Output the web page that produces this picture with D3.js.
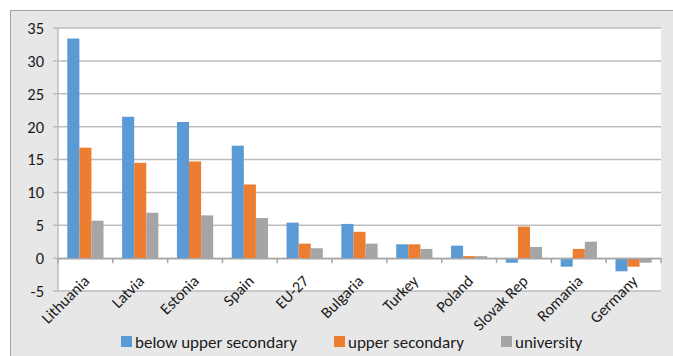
<!DOCTYPE html>
<html>
<head>
<meta charset="utf-8">
<script src="https://cdn.jsdelivr.net/npm/d3@7/dist/d3.min.js"></script>
<style>
  html, body { margin: 0; padding: 0; background: #ffffff; }
  svg { display: block; }
  text { font-family: Carlito, "Liberation Sans Narrow", "Open Sans", sans-serif; fill: #1a1a1a; }
</style>
</head>
<body>
<svg id="chart" width="673" height="356"></svg>
<script>
// Change by education level, per country
const countries = ["Lithuania", "Latvia", "Estonia", "Spain", "EU-27", "Bulgaria", "Turkey", "Poland", "Slovak Rep", "Romania", "Germany"];
const belowUpperSecondary = [33.4, 21.5, 20.7, 17.1, 5.4, 5.2, 2.1, 1.9, -0.7, -1.3, -2.0];
const upperSecondary      = [16.8, 14.5, 14.7, 11.2, 2.2, 4.0, 2.1, 0.3, 4.8, 1.4, -1.3];
const university          = [5.7, 6.9, 6.5, 6.1, 1.5, 2.2, 1.4, 0.3, 1.7, 2.5, -0.7];
const seriesNames = ["below upper secondary", "upper secondary", "university"];
const seriesColors = ["#5b9bd5", "#ed7d31", "#a5a5a5"];
const yTicks = [-5, 0, 5, 10, 15, 20, 25, 30, 35];

const series = [belowUpperSecondary, upperSecondary, university];

const svg = d3.select("#chart");
const plot = { left: 58, right: 661, top: 28, bottom: 291 };

// outer panel
svg.append("rect")
  .attr("x", 10.5).attr("y", 10.5)
  .attr("width", 700).attr("height", 400)
  .attr("fill", "#e7e7e7").attr("stroke", "#a3a3a3").attr("stroke-width", 1);

// plot area
svg.append("rect")
  .attr("x", plot.left).attr("y", plot.top)
  .attr("width", plot.right - plot.left).attr("height", plot.bottom - plot.top)
  .attr("fill", "#ffffff");

const x = d3.scaleBand().domain(countries).range([plot.left, plot.right]).paddingInner(0).paddingOuter(0);
const inner = d3.scaleBand().domain(d3.range(series.length)).range([0, x.bandwidth()]).paddingInner(0).paddingOuter(0.77);
const y = d3.scaleLinear().domain([-5, 35]).range([plot.bottom, plot.top]);

// gridlines
svg.append("g")
  .selectAll("line").data(yTicks).join("line")
  .attr("x1", plot.left - 5).attr("x2", plot.right)
  .attr("y1", d => y(d)).attr("y2", d => y(d))
  .attr("stroke", "#bdbdbd").attr("stroke-width", 1.5);

// y axis line
svg.append("line")
  .attr("x1", plot.left).attr("x2", plot.left)
  .attr("y1", plot.top).attr("y2", plot.bottom)
  .attr("stroke", "#bdbdbd").attr("stroke-width", 1.5);

// y tick labels
svg.append("g")
  .selectAll("text").data(yTicks).join("text")
  .attr("x", 44).attr("y", d => y(d))
  .attr("dy", "0.36em")
  .attr("text-anchor", "end")
  .style("font-size", "16.5px")
  .text(d => d);

// bars
series.forEach((vals, si) => {
  svg.append("g")
    .selectAll("rect").data(vals).join("rect")
    .attr("x", (d, i) => x(countries[i]) + inner(si))
    .attr("width", inner.bandwidth())
    .attr("y", d => y(Math.max(0, d)))
    .attr("height", d => Math.abs(y(d) - y(0)))
    .attr("fill", seriesColors[si]);
});

// category axis on zero line
const xAxis = d3.axisBottom(x).tickSize(0).tickFormat("");
const gx = svg.append("g").attr("transform", `translate(0,${y(0)})`).call(xAxis);
gx.select(".domain").attr("stroke", "#a6a6a6").attr("stroke-width", 1.5);
const boundaries = countries.map(c => x(c)).concat([plot.right]);
gx.selectAll("line.bnd").data(boundaries).join("line")
  .attr("class", "bnd")
  .attr("x1", d => d).attr("x2", d => d)
  .attr("y1", 0).attr("y2", 5)
  .attr("stroke", "#a6a6a6").attr("stroke-width", 1.5);

// category labels, rotated
svg.append("g")
  .selectAll("text").data(countries).join("text")
  .attr("transform", d => `translate(${x(d) + x.bandwidth() / 2 + 5},${y(0) + 24}) rotate(-45)`)
  .attr("text-anchor", "end")
  .style("font-size", "16px")
  .text(d => d);

// legend
const legendX = [121, 334, 501];
const lg = svg.append("g");
seriesNames.forEach((name, i) => {
  lg.append("rect")
    .attr("x", legendX[i]).attr("y", 336)
    .attr("width", 11).attr("height", 11)
    .attr("fill", seriesColors[i]);
  lg.append("text")
    .attr("x", legendX[i] + 14).attr("y", 348)
    .style("font-size", "17px")
    .text(name);
});
</script>
</body>
</html>
